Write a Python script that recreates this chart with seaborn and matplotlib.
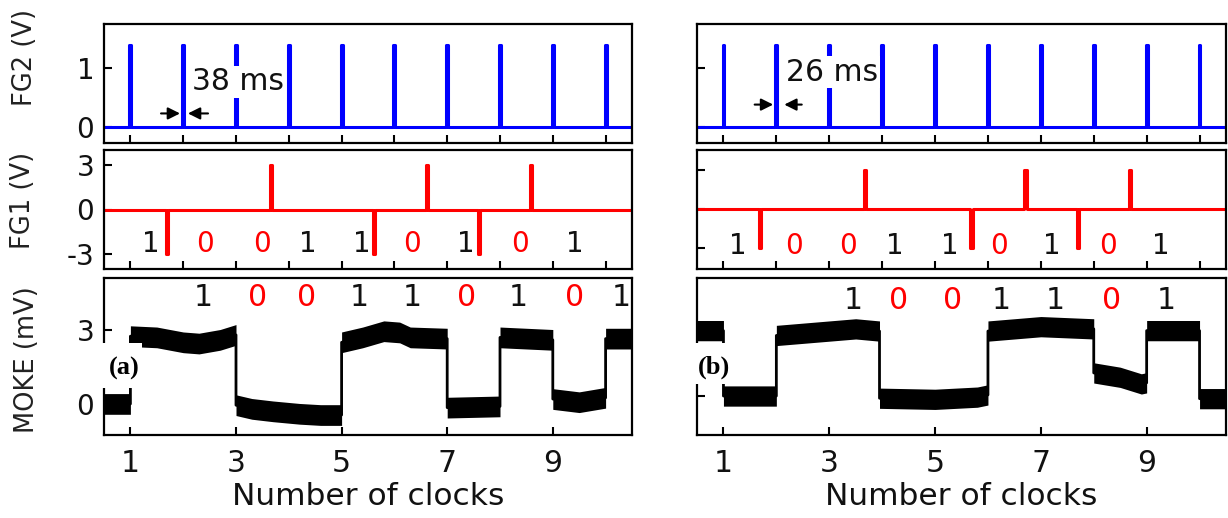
import matplotlib
matplotlib.use("Agg")
import matplotlib.pyplot as plt
import seaborn as sns
import pandas as pd
import numpy as np
from matplotlib.patches import Rectangle

# ---------------- data ----------------
clock_ticks = [1, 2, 3, 4, 5, 6, 7, 8, 9, 10]
xlabel_ticks = [1, 3, 5, 7, 9]

fg2_pulse_pos = [1, 2, 3, 4, 5, 6, 7, 8, 9, 10]
fg2_high = 1.39

fg1_neg_a = [1.69, 5.62, 7.61]
fg1_pos_a = [3.66, 6.61, 8.58]
fg1_neg_b = [1.69, 5.69, 7.70]
fg1_pos_b = [3.68, 6.71, 8.69]
fg1_amp = 3.0

fg1_bits = ["1", "0", "0", "1", "1", "0", "1", "0", "1"]
fg1_bit_x_a = [1.39, 2.42, 3.49, 4.36, 5.38, 6.34, 7.35, 8.37, 9.42]
fg1_bit_x_b = [1.28, 2.33, 3.35, 4.23, 5.28, 6.21, 7.20, 8.27, 9.26]

moke_bits_a = ["1", "0", "0", "1", "1", "0", "1", "0", "1"]
moke_bit_x_a = [2.38, 3.40, 4.34, 5.33, 6.33, 7.36, 8.34, 9.42, 10.30]
moke_bits_b = ["1", "0", "0", "1", "1", "0", "1"]
moke_bit_x_b = [3.45, 4.31, 5.34, 6.25, 7.28, 8.34, 9.37]

moke_x_a = [0.5, 1.0, 1.0, 1.5, 2.0, 2.3, 2.7, 3.0, 3.0, 3.3, 3.7, 4.2, 4.6, 5.0,
            5.0, 5.4, 5.8, 6.1, 6.3, 7.0, 7.0, 8.0, 8.0, 9.0, 9.0, 9.5, 10.0,
            10.0, 10.5]
moke_y_a = [0.0, 0.0, 2.75, 2.7, 2.5, 2.45, 2.6, 2.8, -0.05, -0.2, -0.3, -0.4, -0.45, -0.45,
            2.5, 2.7, 2.95, 2.9, 2.7, 2.65, -0.15, -0.1, 2.7, 2.6, 0.2, 0.07, 0.25,
            2.65, 2.65]

moke_x_b = [0.5, 1.0, 1.0, 2.0, 2.0, 2.5, 3.0, 3.5, 3.95, 3.95, 5.0, 5.8, 6.0,
            6.0, 7.0, 8.0, 8.0, 8.5, 8.9, 9.0, 9.0, 10.0, 10.0, 10.5]
moke_y_b = [2.97, 2.97, 0.0, 0.0, 2.75, 2.85, 2.95, 3.05, 2.95, -0.1, -0.15, -0.05, 0.05,
            2.95, 3.15, 3.05, 1.05, 0.85, 0.55, 0.6, 2.97, 2.97, -0.12, -0.12]

# ---------------- style ----------------
sns.set_theme(style="ticks")
plt.rcParams["font.family"] = ["DejaVu Sans"]
plt.rcParams["axes.unicode_minus"] = False

W, H = 1228, 518
fig = plt.figure(figsize=(W / 100, H / 100), dpi=100)
fig.patch.set_facecolor("white")

XL = (0.5, 10.5)
cols = {"a": (104 / W, 528 / W), "b": (697 / W, 529 / W)}
rows = {"top": (1 - 143 / H, 119 / H), "mid": (1 - 269 / H, 119 / H), "bot": (1 - 435 / H, 157 / H)}

BLUE = "#0000ff"
RED = "#ff0000"


def pulse_train(centers, amps, width):
    xs, ys = [XL[0]], [0.0]
    for c, a in sorted(zip(centers, amps)):
        xs += [c - width / 2, c - width / 2, c + width / 2, c + width / 2]
        ys += [0.0, a, a, 0.0]
    xs.append(XL[1]); ys.append(0.0)
    return pd.DataFrame({"x": xs, "y": ys})


def style_axes(ax, show_ylabels, yticks, ylim, bottom_row):
    ax.set_xlim(*XL)
    ax.set_ylim(*ylim)
    for s in ax.spines.values():
        s.set_linewidth(1.6)
        s.set_color("black")
        s.set_visible(True)
    ax.set_yticks(yticks)
    ax.set_yticklabels([str(t) for t in yticks] if show_ylabels else [])
    if bottom_row:
        ax.set_xticks(xlabel_ticks)
        ax.set_xticklabels([str(t) for t in xlabel_ticks])
        ax.set_xlabel("Number of clocks", fontsize=22.5, labelpad=3, color="#111111")
    else:
        ax.set_xticks(clock_ticks)
        ax.set_xticklabels([])
        ax.set_xlabel("")
    ax.set_ylabel("")
    ax.tick_params(axis="both", direction="in", length=6, width=1.5, colors="black")
    ax.tick_params(axis="x", labelsize=21.5, pad=10, labelcolor="#111111")
    ax.tick_params(axis="y", labelsize=20, pad=7, labelcolor="#111111")
    ax.set_facecolor("white")


panels = {
    "a": dict(fg1_neg=fg1_neg_a, fg1_pos=fg1_pos_a, bit_x=fg1_bit_x_a, bit_y=-2.3,
              mid_ylim=(-4.0, 4.0), bot_ylim=(-1.26, 5.11), mx=moke_x_a, my=moke_y_a, hw=0.42,
              mbits=moke_bits_a, mbit_x=moke_bit_x_a, mbit_y=4.32,
              ms_text="38 ms", ms_x=2.16, ms_y=0.77,
              arr=((1.58, 1.94), (2.47, 2.09), 0.23), label="(a)",
              box=(98, 343, 142, 388), lab_xy=(124.5, 368)),
    "b": dict(fg1_neg=fg1_neg_b, fg1_pos=fg1_pos_b, bit_x=fg1_bit_x_b, bit_y=-2.85,
              mid_ylim=(-4.6, 4.5), bot_ylim=(-1.77, 5.36), mx=moke_x_b, my=moke_y_b, hw=0.46,
              mbits=moke_bits_b, mbit_x=moke_bit_x_b, mbit_y=4.32,
              ms_text="26 ms", ms_x=2.19, ms_y=0.93,
              arr=((1.59, 1.94), (2.48, 2.15), 0.38), label="(b)",
              box=(691, 343, 737, 384), lab_xy=(714, 367)),
}

for key, p in panels.items():
    left, width = cols[key]
    show = key == "a"

    # ---- FG2 ----
    ax1 = fig.add_axes([left, rows["top"][0], width, rows["top"][1]])
    df2 = pulse_train(fg2_pulse_pos, [fg2_high] * len(fg2_pulse_pos), 0.035)
    sns.lineplot(data=df2, x="x", y="y", sort=False, estimator=None, ax=ax1,
                 color=BLUE, lw=2.2)
    style_axes(ax1, show, [0, 1], (-0.271, 1.746), False)
    ax1.text(p["ms_x"], p["ms_y"], p["ms_text"], fontsize=21.5, ha="left", va="center",
             color="#111111", zorder=5,
             bbox=dict(facecolor="white", edgecolor="none", boxstyle="square,pad=0.05"))
    (t1, h1), (t2, h2), ay = p["arr"]
    for tail, head in ((t1, h1), (t2, h2)):
        ax1.annotate("", xy=(head, ay), xytext=(tail, ay),
                     arrowprops=dict(arrowstyle="-|>", color="black", lw=1.5,
                                     mutation_scale=18, shrinkA=0, shrinkB=0), zorder=6)

    # ---- FG1 ----
    ax2 = fig.add_axes([left, rows["mid"][0], width, rows["mid"][1]])
    centers = p["fg1_neg"] + p["fg1_pos"]
    amps = [-fg1_amp] * len(p["fg1_neg"]) + [fg1_amp] * len(p["fg1_pos"])
    df1 = pulse_train(centers, amps, 0.04)
    sns.lineplot(data=df1, x="x", y="y", sort=False, estimator=None, ax=ax2,
                 color=RED, lw=2.2)
    style_axes(ax2, show, [-3, 0, 3], p["mid_ylim"], False)
    for b, bx in zip(fg1_bits, p["bit_x"]):
        ax2.text(bx, p["bit_y"], b, fontsize=20, ha="center", va="center",
                 color=RED if b == "0" else "#111111")

    # ---- MOKE ----
    ax3 = fig.add_axes([left, rows["bot"][0], width, rows["bot"][1]])
    mx = np.array(p["mx"]); my = np.array(p["my"])
    ax3.fill_between(mx, my - p["hw"], my + p["hw"], color="black", lw=0)
    dfm = pd.DataFrame({"x": mx, "y": my})
    sns.lineplot(data=dfm, x="x", y="y", sort=False, estimator=None, ax=ax3,
                 color="black", lw=2.0)
    style_axes(ax3, show, [0, 3], p["bot_ylim"], True)
    for b, bx in zip(p["mbits"], p["mbit_x"]):
        ax3.text(bx, p["mbit_y"], b, fontsize=21.5, ha="center", va="center",
                 color=RED if b == "0" else "#111111")

    # ---- panel label with white patch ----
    x0, y0, x1, y1 = p["box"]
    fig.add_artist(Rectangle((x0 / W, 1 - y1 / H), (x1 - x0) / W, (y1 - y0) / H,
                             transform=fig.transFigure, facecolor="white",
                             edgecolor="none", zorder=4))
    fig.text(p["lab_xy"][0] / W, 1 - p["lab_xy"][1] / H, p["label"],
             family=["Liberation Serif", "DejaVu Serif"], weight="bold", fontsize=19,
             ha="center", va="center", color="black", zorder=5)

# y labels
for txt, xy in (("FG2 (V)", (25, 57)), ("FG1 (V)", (23, 200)), ("MOKE (mV)", (27, 360))):
    fig.text(xy[0] / W, 1 - xy[1] / H, txt, rotation=90, fontsize=18.5,
             ha="center", va="center", color="#222222")

fig.savefig("out.png", dpi=100, facecolor="white")
